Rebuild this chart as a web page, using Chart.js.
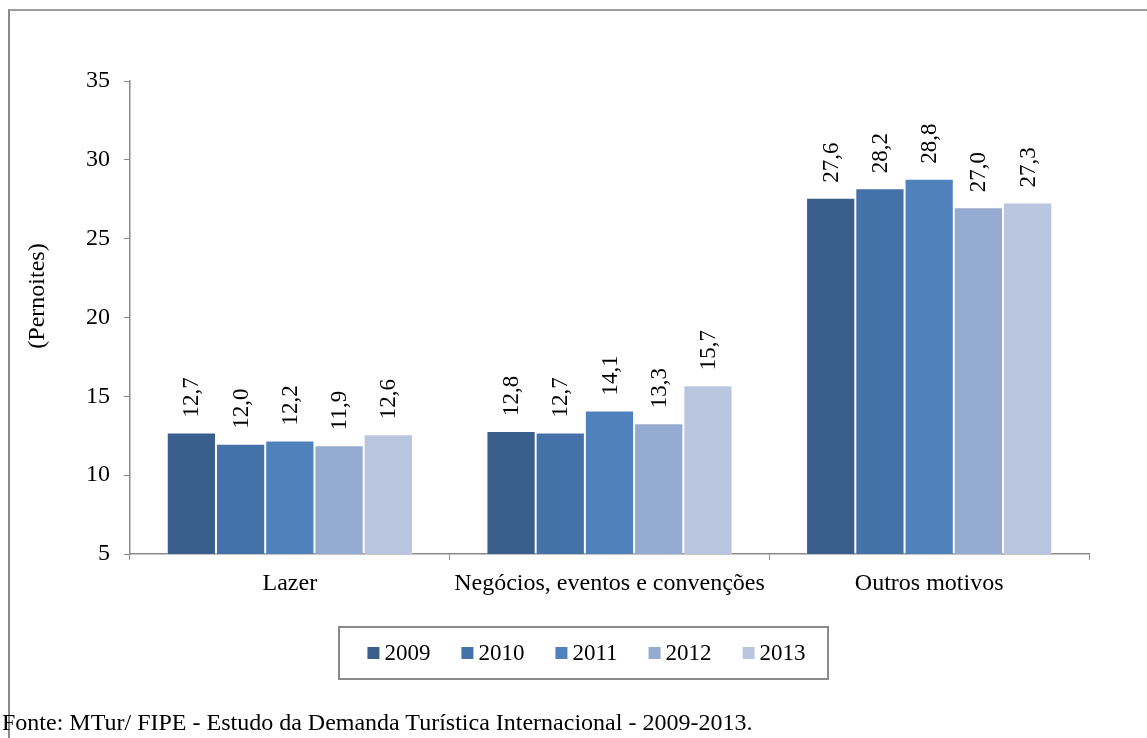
<!DOCTYPE html>
<html>
<head>
<meta charset="utf-8">
<script src="https://cdn.jsdelivr.net/npm/chart.js@4.4.1/dist/chart.umd.min.js"></script>
<style>
  html, body { margin: 0; padding: 0; background: #fff; overflow: hidden; }
  #frame {
    position: absolute; left: 8px; top: 9px; width: 1160px; height: 760px;
    border-left: 2px solid #8a8a8a; border-top: 2px solid #9c9c9c;
  }
  #wrap { position: absolute; left: 0; top: 0; width: 1147px; height: 738px; }
  #fonte {
    position: absolute; left: 2px; top: 709px; white-space: nowrap;
    font-family: 'Liberation Serif', 'Times New Roman', serif; font-size: 24px; color: #000;
  }
</style>
</head>
<body>
<div id="frame"></div>
<div id="wrap"><canvas id="pernoites" width="1147" height="738"></canvas></div>
<div id="fonte">Fonte: MTur/ FIPE - Estudo da Demanda Turística Internacional - 2009-2013.</div>
<script>
const categories = ['Lazer', 'Negócios, eventos e convenções', 'Outros motivos'];
const years = ['2009', '2010', '2011', '2012', '2013'];
const v2009 = [12.7, 12.8, 27.6];
const v2010 = [12.0, 12.7, 28.2];
const v2011 = [12.2, 14.1, 28.8];
const v2012 = [11.9, 13.3, 27.0];
const v2013 = [12.6, 15.7, 27.3];
const yMin = 5, yMax = 35, yStep = 5;
const yTitle = '(Pernoites)';

const colors = ['#3B5F8D', '#4371A8', '#4F81BD', '#95AAD1', '#BAC6E0'];
const SERIF = "'Liberation Serif', 'Times New Roman', serif";
const AXIS = '#8a8a8a';

const series = [v2009, v2010, v2011, v2012, v2013];

// rotated value labels, y title and boxed legend
const extras = {
  id: 'extras',
  afterDatasetsDraw(chart) {
    const { ctx } = chart;
    ctx.save();
    ctx.font = '23px ' + SERIF;
    ctx.fillStyle = '#000';
    ctx.textAlign = 'left';
    ctx.textBaseline = 'middle';
    chart.data.datasets.forEach((ds, i) => {
      chart.getDatasetMeta(i).data.forEach((bar, j) => {
        ctx.save();
        ctx.translate(bar.x + 1, bar.y - 15);
        ctx.rotate(-Math.PI / 2);
        ctx.fillText(ds.data[j].toFixed(1).replace('.', ','), 0, 0);
        ctx.restore();
      });
    });
    ctx.restore();
  },
  afterDraw(chart) {
    const { ctx } = chart;
    ctx.save();
    // axis title
    ctx.font = '24px ' + SERIF;
    ctx.fillStyle = '#000';
    ctx.textAlign = 'center';
    ctx.textBaseline = 'middle';
    ctx.translate(38, 296);
    ctx.rotate(-Math.PI / 2);
    ctx.fillText(yTitle, 0, 0);
    ctx.restore();

    // legend
    ctx.save();
    const box = { left: 339, top: 627, right: 828, bottom: 679 };
    ctx.strokeStyle = AXIS;
    ctx.lineWidth = 2;
    ctx.strokeRect(box.left, box.top, box.right - box.left, box.bottom - box.top);
    ctx.font = '23px ' + SERIF;
    ctx.textBaseline = 'middle';
    ctx.textAlign = 'left';
    const sq = 12, gap = 5, spacing = 31;
    const widths = chart.data.datasets.map(ds => sq + gap + ctx.measureText(ds.label).width);
    const total = widths.reduce((a, b) => a + b, 0) + spacing * (widths.length - 1);
    let x = (box.left + box.right) / 2 + 3 - total / 2;
    const cy = (box.top + box.bottom) / 2;
    chart.data.datasets.forEach((ds, i) => {
      ctx.fillStyle = ds.backgroundColor;
      ctx.fillRect(x, cy - sq / 2, sq, sq);
      ctx.fillStyle = '#000';
      ctx.fillText(ds.label, x + sq + gap, cy + 1);
      x += widths[i] + spacing;
    });
    ctx.restore();
  }
};

new Chart(document.getElementById('pernoites').getContext('2d'), {
  type: 'bar',
  data: {
    labels: categories,
    datasets: series.map((data, i) => ({
      label: years[i],
      data,
      backgroundColor: colors[i],
      borderColor: 'rgba(255,255,255,0.35)',
      borderWidth: 1,
      barPercentage: 1,
      categoryPercentage: 0.77,
    })),
  },
  options: {
    responsive: false,
    animation: false,
    devicePixelRatio: 1,
    layout: { padding: { top: 81, right: 58, left: 0, bottom: 0 } },
    plugins: {
      legend: { display: false },
      tooltip: { enabled: false },
    },
    scales: {
      x: {
        grid: { offset: true, drawOnChartArea: false, tickLength: 6, color: AXIS },
        border: { color: AXIS, width: 1.5 },
        ticks: { font: { family: SERIF, size: 24 }, color: '#000', padding: 9 },
        afterFit(scale) { scale.height = 184; },
      },
      y: {
        min: yMin,
        max: yMax,
        grid: { drawOnChartArea: false, tickLength: 6, color: AXIS },
        border: { color: AXIS, width: 1.5 },
        ticks: { stepSize: yStep, font: { family: SERIF, size: 24 }, color: '#000', padding: 14 },
        afterFit(scale) { scale.width = 130; },
      },
    },
  },
  plugins: [extras],
});
</script>
</body>
</html>
